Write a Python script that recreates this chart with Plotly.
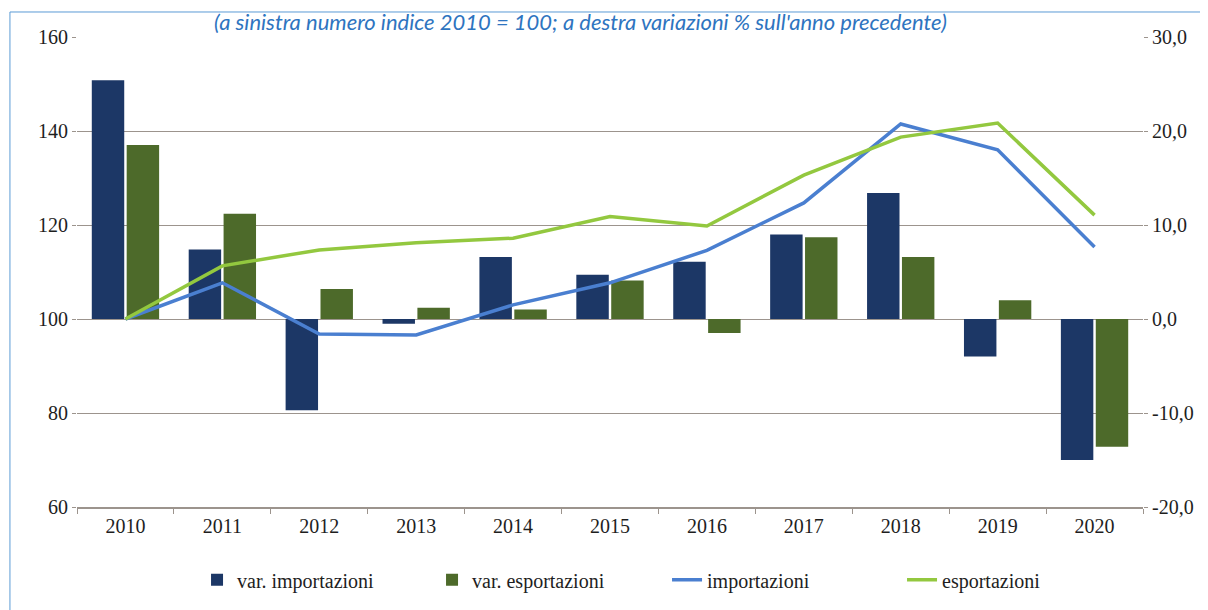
import plotly.graph_objects as go

anni = ["2010", "2011", "2012", "2013", "2014", "2015", "2016", "2017", "2018", "2019", "2020"]
var_importazioni = [25.4, 7.4, -9.7, -0.5, 6.6, 4.7, 6.1, 9.0, 13.4, -4.0, -15.0]
var_esportazioni = [18.5, 11.2, 3.2, 1.2, 1.0, 4.1, -1.5, 8.7, 6.6, 2.0, -13.6]
importazioni = [100.0, 107.7, 96.8, 96.6, 103.0, 107.7, 114.6, 124.7, 141.5, 136.0, 115.3]
esportazioni = [100.0, 111.3, 114.7, 116.2, 117.2, 121.8, 119.8, 130.6, 138.7, 141.7, 122.1]

left_ticks = [60, 80, 100, 120, 140, 160]
right_ticks = [-20, -10, 0, 10, 20, 30]
right_labels = ["-20,0", "-10,0", "0,0", "10,0", "20,0", "30,0"]

serif = "Liberation Serif"
grid = "#9c948d"
txt = "#1e1e1e"
border = "#5b9bd5"

fig = go.Figure()
fig.add_trace(go.Bar(x=anni, y=var_importazioni, name="var. importazioni",
                     marker=dict(color="#1c3766", line=dict(width=0)), yaxis="y"))
fig.add_trace(go.Bar(x=anni, y=var_esportazioni, name="var. esportazioni",
                     marker=dict(color="#4d6a2a", line=dict(width=0)), yaxis="y"))
fig.add_trace(go.Scatter(x=anni, y=importazioni, name="importazioni", mode="lines",
                         line=dict(color="#4a7fd0", width=3.5), yaxis="y2"))
fig.add_trace(go.Scatter(x=anni, y=esportazioni, name="esportazioni", mode="lines",
                         line=dict(color="#93c83f", width=3.5), yaxis="y2"))

fig.update_layout(
    width=1208, height=610,
    margin=dict(l=69, r=73, t=29, b=111),
    paper_bgcolor="white", plot_bgcolor="white",
    barmode="group", bargap=0.28, bargroupgap=0.07,
    font=dict(family=serif, size=20, color=txt),
    showlegend=True,
    legend=dict(orientation="h", x=0.1126, xanchor="left", y=-0.155, yanchor="middle",
                font=dict(family=serif, size=20, color=txt),
                entrywidth=190, entrywidthmode="pixels", traceorder="normal"),
    xaxis=dict(type="category", showgrid=False, showline=True, linecolor=grid, linewidth=1.5,
               ticks="outside", tickson="boundaries", ticklen=5, tickcolor=grid,
               tickfont=dict(family=serif, size=20, color=txt)),
    yaxis=dict(side="right", range=[-20, 30], tickvals=right_ticks, ticktext=right_labels,
               showgrid=True, gridcolor=grid, gridwidth=1.2, zeroline=False,
               ticks="outside", ticklen=4, tickcolor=grid,
               tickfont=dict(family=serif, size=20, color=txt)),
    yaxis2=dict(side="left", overlaying="y", range=[60, 160], tickvals=left_ticks,
                showgrid=False, zeroline=False, ticks="outside", ticklen=4, tickcolor=grid,
                tickfont=dict(family=serif, size=20, color=txt)),
    annotations=[dict(text="<i>(a sinistra numero indice 2010 = 100; a destra variazioni % sull'anno precedente)</i>",
                      xref="paper", yref="paper", x=0.472, y=1.034, xanchor="center", yanchor="middle",
                      showarrow=False, font=dict(family="Lato", size=22, color="#2e74c0"))],
    shapes=[
        dict(type="line", xref="paper", yref="paper", x0=-0.0629, y0=-0.3, x1=-0.0629, y1=1.0532,
             line=dict(color=border, width=1), layer="below"),
        dict(type="line", xref="paper", yref="paper", x0=-0.0629, y0=1.0532, x1=1.2, y1=1.0532,
             line=dict(color=border, width=1), layer="below"),
    ],
)

fig.write_html("out.html")
